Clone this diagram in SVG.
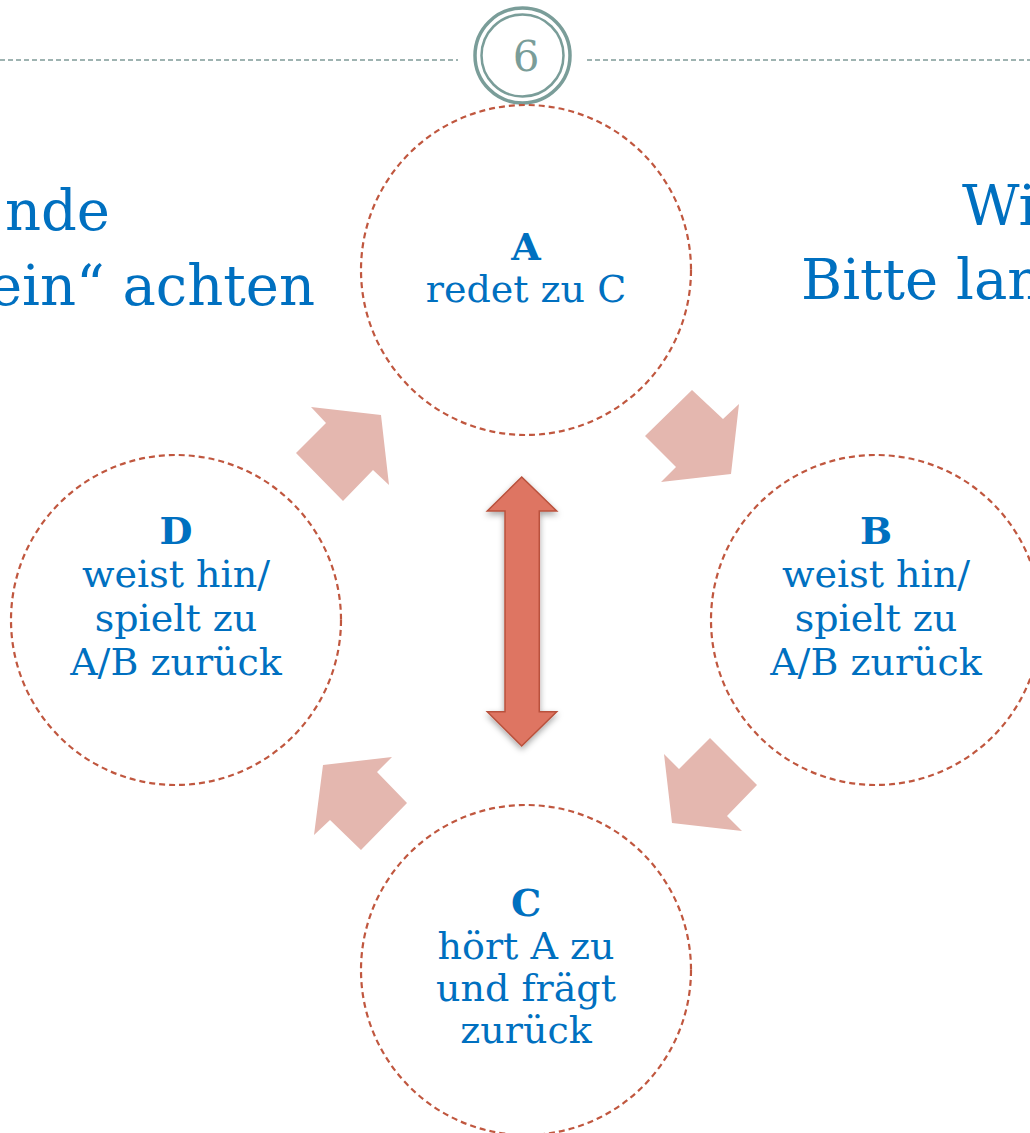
<svg xmlns="http://www.w3.org/2000/svg" width="1030" height="1133" viewBox="0 0 1030 1133">
<defs>
<style>
.t{font-family:"DejaVu Serif","Liberation Serif",serif;fill:#0070C0;}
.lbl{font-size:38px;text-anchor:middle;}
.b{font-weight:bold;}
.title{font-size:56px;}
.node{fill:#FFFFFF;stroke:#C0573F;stroke-width:2.2;stroke-dasharray:6 4;}
.cyc{fill:#E4B7AF;}
.dbl{fill:#DE7562;stroke:#B9513C;stroke-width:1.5;}
.pg{fill:none;stroke:#7A9D99;}
.rule{stroke:#7F9B98;stroke-width:1.3;stroke-dasharray:5 3;}
</style>
<filter id="sh" x="-50%" y="-20%" width="200%" height="140%">
<feDropShadow dx="0" dy="3" stdDeviation="3" flood-color="#000000" flood-opacity="0.35"/>
</filter>
</defs>
<rect width="1030" height="1133" fill="#FFFFFF"/>

<g id="header">
<line class="rule" x1="0" y1="60" x2="458" y2="60"/>
<line class="rule" x1="587" y1="60" x2="1030" y2="60"/>
<circle class="pg" cx="522.5" cy="55.5" r="47.5" stroke-width="3.5"/>
<circle class="pg" cx="522.5" cy="55.5" r="41" stroke-width="2.5"/>
<text x="526" y="71" font-family="DejaVu Serif,serif" font-size="42" fill="#7A9D99" text-anchor="middle">6</text>
</g>

<g id="titles">
<text class="t title" x="110" y="230" text-anchor="end">nde</text>
<text class="t title" x="315" y="305" text-anchor="end">ein“ achten</text>
<text class="t title" x="962" y="225">Wi</text>
<text class="t title" x="801" y="299">Bitte lan</text>
</g>

<g id="connectors">
<polygon class="cyc" points="311,407 381,415 389,485 373,470 343,501 296,453 326,423"/>
<polygon class="cyc" points="692,390 723,419 739,404 731,474 661,482 676,467 645,436"/>
<polygon class="cyc" points="710,738 757,785 727,816 742,831 672,823 664,754 679,769"/>
<polygon class="cyc" points="392,757 377,772 407,803 361,850 330,820 314,835 323,765"/>
<polygon class="dbl" filter="url(#sh)" points="521.7,477 556.7,511 539.3,511 539.3,711.7 556.7,711.7 521.7,746 487.3,711.7 505,711.7 505,511 487.3,511"/>
</g>

<g id="node-A">
<circle class="node" cx="526" cy="270" r="165"/>
<text class="t lbl b" x="526" y="260">A</text>
<text class="t lbl" x="526" y="302">redet zu C</text>
</g>

<g id="node-B">
<circle class="node" cx="876" cy="620" r="165"/>
<text class="t lbl b" x="876" y="544">B</text>
<text class="t lbl" x="876" y="587">weist hin/</text>
<text class="t lbl" x="876" y="631">spielt zu</text>
<text class="t lbl" x="876" y="675">A/B zurück</text>
</g>

<g id="node-C">
<circle class="node" cx="526" cy="970" r="165"/>
<text class="t lbl b" x="526" y="916">C</text>
<text class="t lbl" x="526" y="959">hört A zu</text>
<text class="t lbl" x="526" y="1001">und frägt</text>
<text class="t lbl" x="526" y="1043">zurück</text>
</g>

<g id="node-D">
<circle class="node" cx="176" cy="620" r="165"/>
<text class="t lbl b" x="176" y="544">D</text>
<text class="t lbl" x="176" y="587">weist hin/</text>
<text class="t lbl" x="176" y="631">spielt zu</text>
<text class="t lbl" x="176" y="675">A/B zurück</text>
</g>
</svg>
